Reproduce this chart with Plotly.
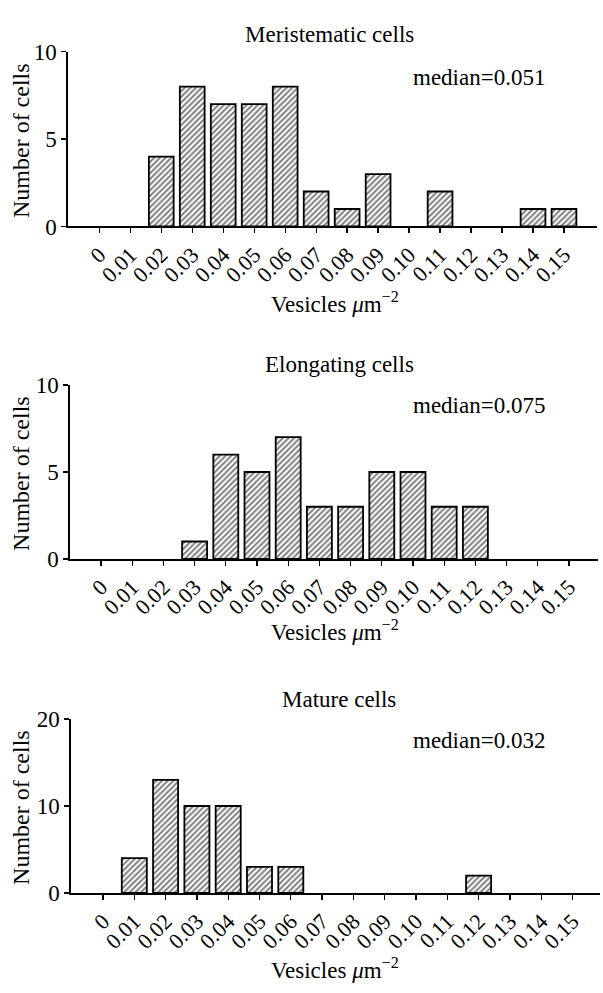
import plotly.graph_objects as go

# ---------------- data ----------------
bins = [0.00, 0.01, 0.02, 0.03, 0.04, 0.05, 0.06, 0.07,
        0.08, 0.09, 0.10, 0.11, 0.12, 0.13, 0.14, 0.15]
tick_labels = ["0", "0.01", "0.02", "0.03", "0.04", "0.05", "0.06", "0.07",
               "0.08", "0.09", "0.10", "0.11", "0.12", "0.13", "0.14", "0.15"]

meristematic = [0, 0, 4, 8, 7, 7, 8, 2, 1, 3, 0, 2, 0, 0, 1, 1]
elongating = [0, 0, 0, 1, 6, 5, 7, 3, 3, 5, 5, 3, 3, 0, 0, 0]
mature = [0, 4, 13, 10, 10, 3, 3, 0, 0, 0, 0, 0, 2, 0, 0, 0]

panel_titles = ["Meristematic cells", "Elongating cells", "Mature cells"]
median_labels = ["median=0.051", "median=0.075", "median=0.032"]
y_tickvals = [[0, 5, 10], [0, 5, 10], [0, 10, 20]]
y_max = [10, 10, 20]
y_title = "Number of cells"
x_title = "Vesicles <i>μ</i>m<sup>−2</sup>"

series = [meristematic, elongating, mature]

# ---------------- layout geometry (pixels) ----------------
W, H = 603, 993
FONT = "Liberation Serif, Times New Roman, serif"

panels = [
    dict(left=68, right=597, top=40.7, bottom=220, zero_px=99.3, step=30.98,
         title_x=330, title_y=23, median_y=67, xt_y=298),
    dict(left=70, right=598, top=382.7, bottom=561, zero_px=101, step=31.2,
         title_x=339, title_y=362, median_y=404, xt_y=634),
    dict(left=71, right=600, top=725.3, bottom=903.7, zero_px=103, step=31.3,
         title_x=339, title_y=705, median_y=747, xt_y=981),
]


def fx(px):
    return px / W


def fy(py):
    return 1 - py / H


fig = go.Figure()
layout = dict(
    width=W, height=H,
    margin=dict(l=0, r=0, t=0, b=0),
    paper_bgcolor="white", plot_bgcolor="white",
    showlegend=False, bargap=0.2,
    font=dict(family=FONT, color="black", size=20),
)
annotations = []

for i, (vals, p) in enumerate(zip(series, panels)):
    n = i + 1
    xa = "x" if n == 1 else f"x{n}"
    ya = "y" if n == 1 else f"y{n}"
    fig.add_trace(go.Bar(
        x=bins, y=[v if v else None for v in vals], xaxis=xa, yaxis=ya,
        marker=dict(
            color="white",
            line=dict(color="black", width=1.8),
            pattern=dict(shape="/", fgcolor="black", bgcolor="white",
                         size=4, solidity=0.5),
        ),
        hoverinfo="skip",
    ))
    unit = p["step"] / 0.01
    xr = [(p["left"] - p["zero_px"]) / unit, (p["right"] - p["zero_px"]) / unit]
    layout["xaxis" if n == 1 else f"xaxis{n}"] = dict(
        domain=[fx(p["left"]), fx(p["right"])],
        range=xr, anchor=ya,
        showline=True, linecolor="black", linewidth=1.8,
        ticks="outside", ticklen=5, tickwidth=1.3, tickcolor="black",
        tickvals=bins, ticktext=tick_labels, tickangle=-45,
        tickfont=dict(family=FONT, size=22, color="black"),
        showgrid=False, zeroline=False, fixedrange=True,
    )
    layout["yaxis" if n == 1 else f"yaxis{n}"] = dict(
        domain=[fy(p["bottom"]), fy(p["top"])],
        range=[0, y_max[i]], anchor=xa,
        showline=True, linecolor="black", linewidth=1.6,
        ticks="outside", ticklen=5, tickwidth=1.3, tickcolor="black",
        tickvals=y_tickvals[i],
        tickfont=dict(family=FONT, size=23, color="black"),
        showgrid=False, zeroline=False, fixedrange=True,
    )
    # panel title
    annotations.append(dict(
        x=fx(p["title_x"]), y=fy(p["title_y"]), xref="paper", yref="paper",
        text=panel_titles[i], showarrow=False, xanchor="center", yanchor="middle",
        font=dict(family=FONT, size=23, color="black")))
    # median label
    annotations.append(dict(
        x=fx(411), y=fy(p["median_y"]), xref="paper", yref="paper",
        text=median_labels[i], showarrow=False, xanchor="left", yanchor="middle",
        font=dict(family=FONT, size=23, color="black")))
    # y title
    annotations.append(dict(
        x=fx(21), y=fy((p["top"] + p["bottom"]) / 2 + 2), xref="paper", yref="paper",
        text=y_title, showarrow=False, textangle=-90,
        xanchor="center", yanchor="middle",
        font=dict(family=FONT, size=24, color="black")))
    # x title
    annotations.append(dict(
        x=fx(335), y=fy(p["xt_y"]), xref="paper", yref="paper",
        text=x_title, showarrow=False, xanchor="center", yanchor="middle",
        font=dict(family=FONT, size=23, color="black")))

layout["annotations"] = annotations
fig.update_layout(**layout)
fig.write_html(
    "out.html",
    config={"displayModeBar": False, "staticPlot": True},
    post_script="document.body.style.margin='0px';document.body.style.overflow='hidden';",
)
